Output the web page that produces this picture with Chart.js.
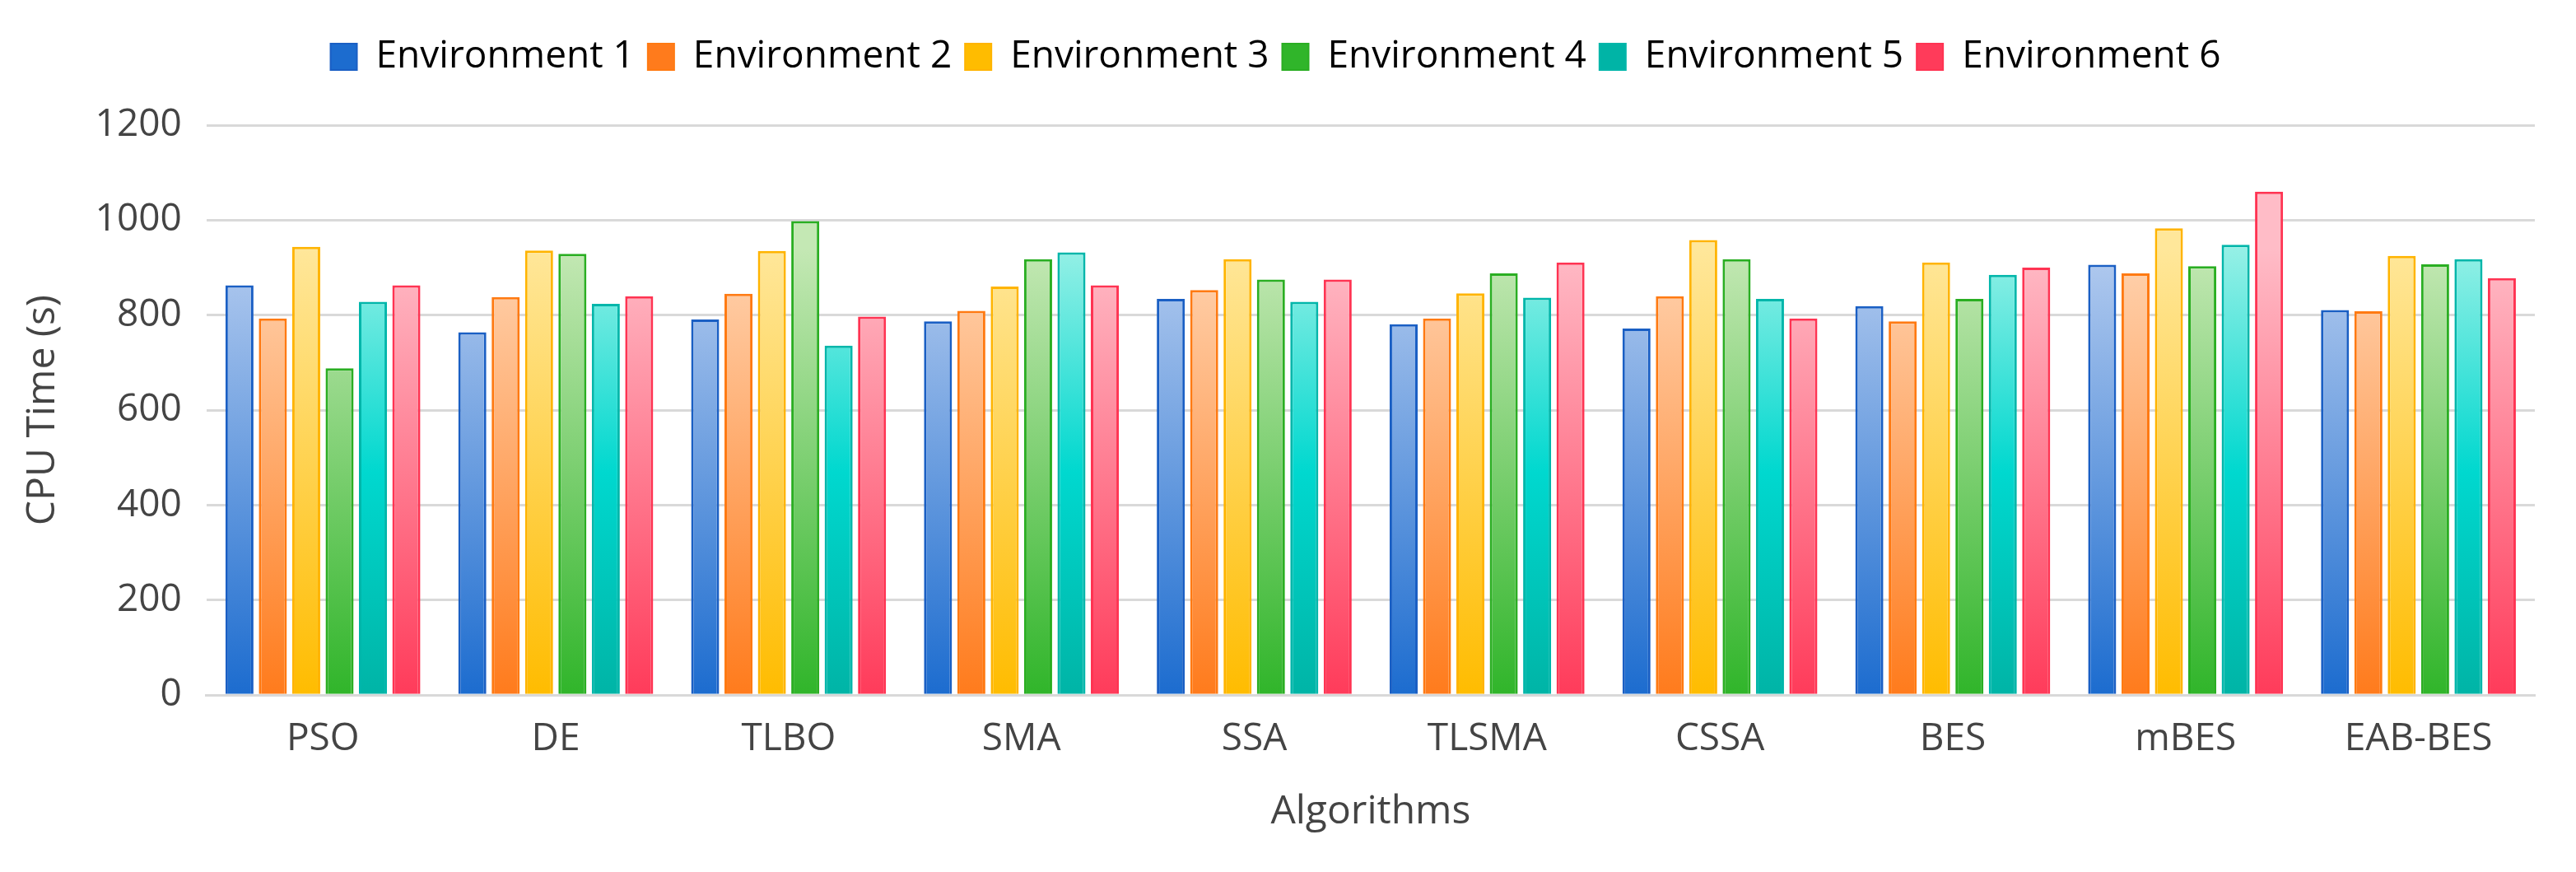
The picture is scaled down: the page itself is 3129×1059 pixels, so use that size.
<!DOCTYPE html>
<html><head><meta charset="utf-8">
<script src="https://cdn.jsdelivr.net/npm/chart.js@4"></script>
<style>html,body{margin:0;padding:0;background:#fff}#w{width:3129px;height:1059px}</style>
</head><body><div id="w"><canvas id="c"></canvas></div>
<script>
const categories = ["PSO","DE","TLBO","SMA","SSA","TLSMA","CSSA","BES","mBES","EAB-BES"];
const seriesNames = ["Environment 1","Environment 2","Environment 3","Environment 4","Environment 5","Environment 6"];
const env1 = [863,764,791,787,834,781,772,819,906,811];
const env2 = [793,838,845,809,853,793,840,787,888,808];
const env3 = [944,936,935,860,918,846,958,911,983,925];
const env4 = [688,929,998,918,875,888,918,834,903,907];
const env5 = [828,824,736,932,828,837,834,885,948,918];
const env6 = [863,840,797,863,875,911,793,900,1060,878];
const yTicks = [0,200,400,600,800,1000,1200];

const palette = [
  {top:"#b3cbef",bot:"#1c6ccf",border:"#1a5fc4"},
  {top:"#ffd3b0",bot:"#ff7b1c",border:"#ff7a12"},
  {top:"#ffe79a",bot:"#ffbc00",border:"#ffb400"},
  {top:"#c4e8b4",bot:"#30b52a",border:"#2aae22"},
  {top:"#95f0e6",bot:"#00b4a6",border:"#00b6aa",mid:"#00d8cf"},
  {top:"#ffbcc7",bot:"#ff3b5a",border:"#ff3352"}
];
function grad(ctx, p){
  const ca = ctx.chart.chartArea;
  if(!ca) return p.bot;
  const g = ctx.chart.ctx.createLinearGradient(0, ca.top+150, 0, ca.bottom);
  g.addColorStop(0, p.top);
  if(p.mid) g.addColorStop(0.5, p.mid);
  g.addColorStop(1, p.bot);
  return g;
}
const allData=[env1,env2,env3,env4,env5,env6];
const datasets = allData.map((d,i)=>({
  label: seriesNames[i], data: d,
  backgroundColor: c=>grad(c,palette[i]),
  borderColor: palette[i].border, borderWidth: 3,
  categoryPercentage: 0.86, barPercentage: 0.84
}));
const font = "'Open Sans', 'Noto Sans', sans-serif";
const legendGap = {id:'legendGap', beforeInit(chart){
  const orig = chart.legend.fit;
  chart.legend.fit = function(){ orig.bind(chart.legend)(); this.height += 50; };
}};
new Chart(document.getElementById('c'), {
  type:'bar',
  data:{labels:categories, datasets},
  plugins:[legendGap],
  options:{
    responsive:true, maintainAspectRatio:false, animation:false, devicePixelRatio:1,
    layout:{padding:{left:20,right:50,top:30,bottom:40}},
    plugins:{
      legend:{position:'top', align:'center',
        labels:{font:{family:font,size:46}, color:'#333', boxWidth:32, boxHeight:32, padding:16,
          generateLabels(chart){
            return seriesNames.map((n,i)=>({text:n, fillStyle:palette[i].bot, strokeStyle:palette[i].border, lineWidth:2, datasetIndex:i}));
          }}},
      tooltip:{enabled:false}
    },
    scales:{
      x:{grid:{display:false}, border:{color:'#d9d9d9',width:3},
        ticks:{font:{family:font,size:46}, color:'#444', padding:18},
        title:{display:true,text:'Algorithms',font:{family:font,size:48},color:'#444',padding:{top:14}}},
      y:{min:0,max:1200,afterBuildTicks(ax){ax.ticks=yTicks.map(v=>({value:v}));},
        grid:{color:'#d9d9d9',lineWidth:3,drawTicks:false}, border:{display:false},
        ticks:{font:{family:font,size:46}, color:'#444', padding:30, callback:v=>String(v)},
        title:{display:true,text:'CPU Time (s)',font:{family:font,size:48},color:'#444',padding:{bottom:4}}}
    }
  }
});
</script></body></html>
